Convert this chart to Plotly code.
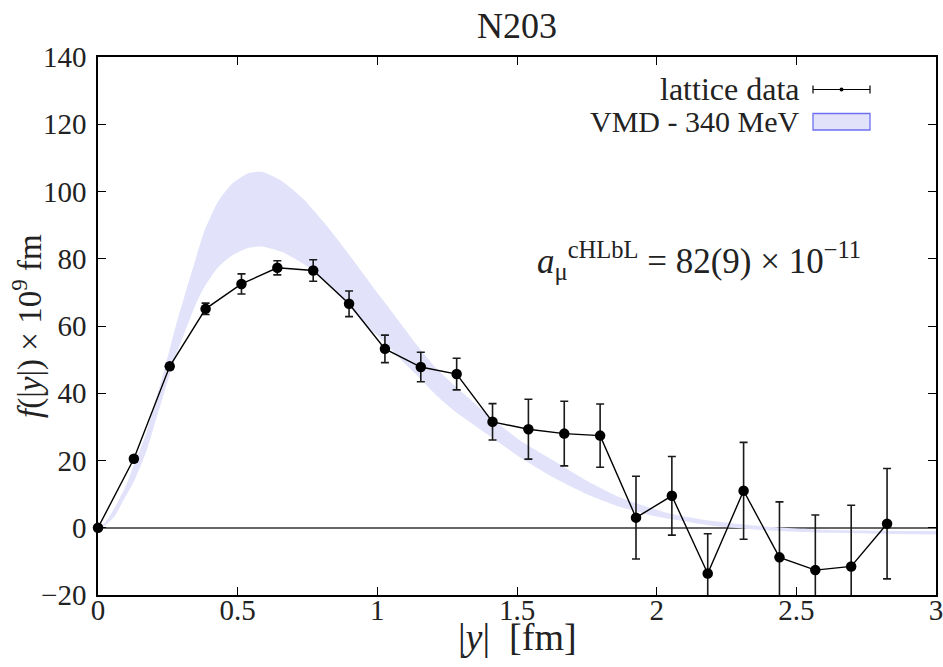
import plotly.graph_objects as go

# lattice data
y_fm = [0.0, 0.1284, 0.2568, 0.3852, 0.5136, 0.642, 0.7704, 0.8988, 1.0272, 1.1556,
        1.284, 1.4124, 1.5408, 1.6692, 1.7976, 1.926, 2.0544, 2.1828, 2.3112, 2.4396,
        2.568, 2.6964, 2.8248]
f_val = [0.0, 20.5, 48.0, 65.1, 72.5, 77.3, 76.5, 66.6, 53.2, 47.8,
         45.7, 31.5, 29.3, 28.0, 27.4, 3.0, 9.5, -13.6, 11.0, -8.8,
         -12.6, -11.5, 1.2]
f_err = [0.0, 0.9, 0.9, 1.7, 3.0, 2.1, 3.2, 3.8, 4.1, 4.4,
         4.7, 5.4, 8.9, 9.6, 9.4, 12.3, 11.7, 11.8, 14.4, 16.5,
         16.4, 18.2, 16.4]

# VMD band (340 MeV)
band_x = [0.0, 0.025, 0.06, 0.1, 0.13, 0.17, 0.2, 0.24, 0.28, 0.31, 0.35, 0.38, 0.43,
          0.48, 0.54, 0.59, 0.66, 0.735, 0.81, 0.88, 0.95, 1.02, 1.09, 1.14, 1.21,
          1.28, 1.39, 1.51, 1.63, 1.75, 1.87, 1.99, 2.05, 2.2, 2.4, 2.6, 2.8, 3.0]
band_hi = [0.0, 1.5, 6.0, 12.5, 19.0, 27.5, 36.0, 47.7, 60.5, 69.0, 80.0, 88.0, 97.0,
           102.3, 105.5, 105.8, 103.0, 97.8, 90.7, 83.3, 75.5, 67.7, 60.0, 54.5, 47.5,
           42.0, 34.0, 26.0, 20.0, 14.0, 9.0, 5.6, 4.2, 2.0, 0.3, -0.6, -0.9, -1.0]
band_lo = [0.0, 0.6, 3.5, 9.5, 14.0, 22.0, 30.0, 41.0, 51.5, 58.0, 66.5, 71.5, 77.5,
           81.0, 83.3, 83.6, 82.0, 78.5, 73.5, 67.5, 61.0, 55.7, 49.5, 45.5, 39.5,
           34.5, 28.0, 21.0, 15.0, 10.0, 6.2, 3.5, 2.6, 0.6, -0.8, -1.5, -1.8, -2.0]

x_ticks = [0, 0.5, 1, 1.5, 2, 2.5, 3]
x_tick_text = ["0", "0.5", "1", "1.5", "2", "2.5", "3"]
y_ticks = [-20, 0, 20, 40, 60, 80, 100, 120, 140]

FONT = "Liberation Serif"
TXT = "#222"
BAND_FILL = "#e2e2fa"

fig = go.Figure()
fig.add_trace(go.Scatter(x=band_x, y=band_lo, mode="lines",
                         line=dict(width=0, shape="spline", smoothing=0.6),
                         showlegend=False, hoverinfo="skip"))
fig.add_trace(go.Scatter(x=band_x, y=band_hi, mode="lines",
                         line=dict(width=0, shape="spline", smoothing=0.6),
                         fill="tonexty", fillcolor=BAND_FILL, showlegend=False,
                         hoverinfo="skip"))
fig.add_trace(go.Scatter(x=y_fm, y=f_val, mode="lines",
                         line=dict(color="black", width=1.4),
                         error_y=dict(type="data", array=f_err, color="#1a1a1a",
                                      thickness=1.6, width=4),
                         cliponaxis=True, showlegend=False))
fig.add_trace(go.Scatter(x=y_fm, y=f_val, mode="markers",
                         marker=dict(color="black", size=10.5),
                         cliponaxis=False, showlegend=False))

# page body margin is removed by the post script, so the figure fills the window
W, H = 943, 667
L, R, T, B = 98, 7, 57, 72
pw, ph = W - L - R, H - T - B

def px(xp):
    return (xp - L) / pw

def py(yp):
    return (H - B - yp) / ph

# manual legend (key on the right of the text, as in the original)
row1, row2 = py(89.5), py(121.5)
txt_x = px(801)
k0, k1 = px(813), px(870)
fig.add_annotation(xref="paper", yref="paper", x=txt_x, y=row1, xanchor="right",
                   yanchor="middle", text="lattice data", showarrow=False,
                   font=dict(family=FONT, size=32, color=TXT))
fig.add_annotation(xref="paper", yref="paper", x=txt_x, y=row2, xanchor="right",
                   yanchor="middle", text="VMD - 340 MeV", showarrow=False,
                   font=dict(family=FONT, size=30, color=TXT))
fig.add_shape(type="line", xref="paper", yref="paper", x0=k0, x1=k1, y0=row1, y1=row1,
              line=dict(color="black", width=1.2))
for kx in (k0, k1):
    fig.add_shape(type="line", xref="paper", yref="paper", x0=kx, x1=kx,
                  y0=row1 - 4 / ph, y1=row1 + 4 / ph, line=dict(color="black", width=1.2))
fig.add_shape(type="circle", xref="paper", yref="paper",
              x0=(k0 + k1) / 2 - 2 / pw, x1=(k0 + k1) / 2 + 2 / pw,
              y0=row1 - 2 / ph, y1=row1 + 2 / ph, fillcolor="black",
              line=dict(color="black", width=0))
fig.add_shape(type="rect", xref="paper", yref="paper", x0=k0, x1=k1,
              y0=py(130), y1=py(113.5), fillcolor=BAND_FILL,
              line=dict(color="#6f6ff2", width=1.3))

fig.add_annotation(xref="paper", yref="paper", x=px(863), y=py(260), xanchor="right",
                   yanchor="middle", showarrow=False,
                   text="<i>a</i><sub>μ</sub><sup>cHLbL</sup> = 82(9) × 10<sup>−11</sup>",
                   font=dict(family=FONT, size=35, color=TXT))

# axis titles as annotations for exact placement
fig.add_annotation(xref="paper", yref="paper", x=px(517), y=py(637), xanchor="center",
                   yanchor="middle", showarrow=False, text="|<i>y</i>|  [fm]",
                   font=dict(family=FONT, size=38, color=TXT))
fig.add_annotation(xref="paper", yref="paper", x=px(27), y=py(326), xanchor="center",
                   yanchor="middle", showarrow=False, textangle=-90,
                   text="<i>f</i>(|<i>y</i>|) × 10<sup>9</sup> fm",
                   font=dict(family=FONT, size=33, color=TXT))

axis_common = dict(showline=True, linecolor="black", linewidth=1.5, mirror="allticks",
                   ticks="inside", ticklen=8, tickwidth=1.2, tickcolor="black",
                   showgrid=False, automargin=False, ticklabeloverflow="allow",
                   tickfont=dict(family=FONT, size=29, color=TXT))

fig.update_layout(
    width=W, height=H,
    margin=dict(l=L, r=R, t=T, b=B, autoexpand=False),
    paper_bgcolor="white", plot_bgcolor="white",
    title=dict(text="N203", x=(L + pw / 2) / W, xanchor="center", y=1 - 25 / H,
               yanchor="middle", font=dict(family=FONT, size=36, color=TXT)),
    xaxis=dict(range=[0, 3], tickvals=x_ticks, ticktext=x_tick_text,
               zeroline=False, ticklabelstandoff=-12, **axis_common),
    yaxis=dict(range=[-20, 140], tickvals=y_ticks, ticklabelstandoff=4,
               zeroline=True, zerolinecolor="#666", zerolinewidth=1.5, **axis_common),
)

fig.write_html("out.html",
               config={"displayModeBar": False},
               post_script="document.body.style.margin='0';"
                           "document.body.style.overflow='hidden';")
